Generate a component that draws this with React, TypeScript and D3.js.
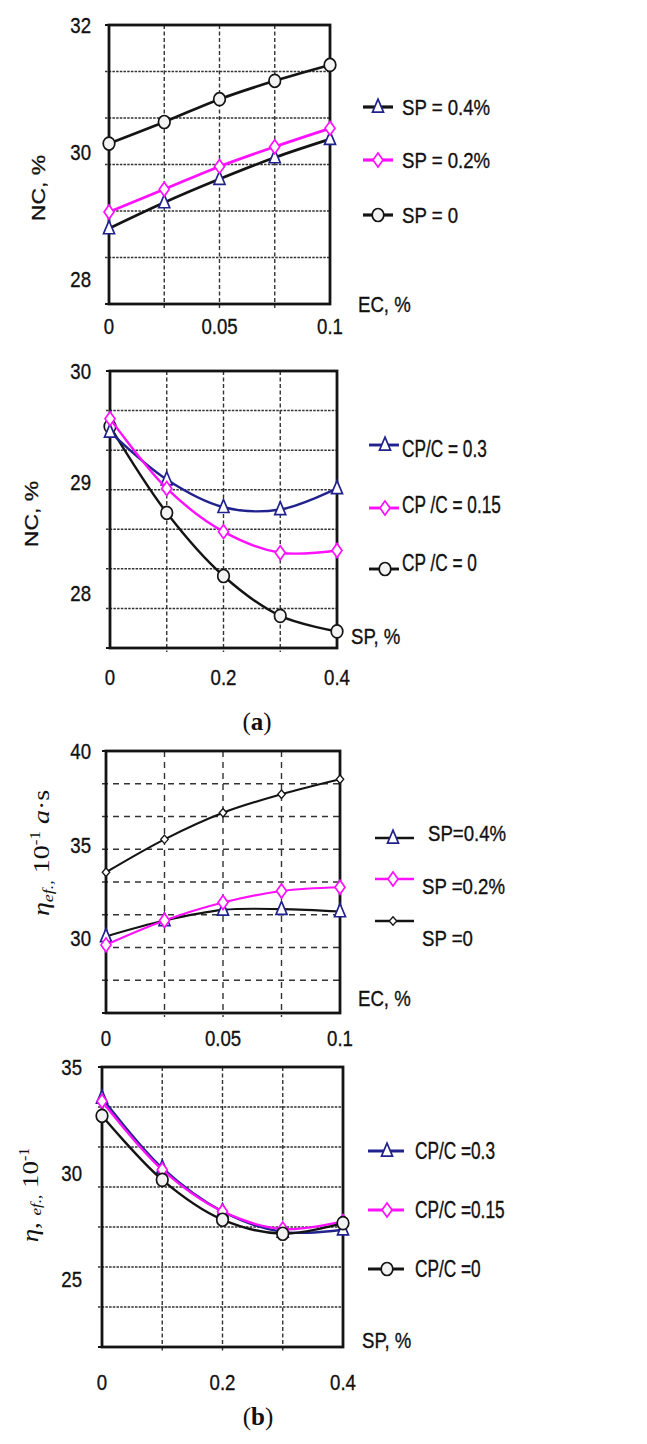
import * as d3 from "d3";
import type { ReactNode } from "react";

// x levels
const ecLevels = [0, 0.025, 0.05, 0.075, 0.1];
const spLevels = [0, 0.1, 0.2, 0.3, 0.4];
const ecGrid = [0.025, 0.05, 0.075];
const spGrid = [0.1, 0.2, 0.3];
const ecTickLabels = [0, 0.05, 0.1];
const spTickLabels = [0, 0.2, 0.4];

// (a) top: NC vs EC
const ncEcSp04 = [28.79, 29.2, 29.57, 29.91, 30.2];
const ncEcSp02 = [29.05, 29.41, 29.77, 30.08, 30.37];
const ncEcSp0 = [30.13, 30.47, 30.83, 31.12, 31.37];
const ncEcTicks = [28, 30, 32];
const ncEcLegend = ["SP = 0.4%", "SP = 0.2%", "SP = 0"];

// (a) bottom: NC vs SP
const ncSpCp03 = [29.45, 29.02, 28.77, 28.75, 28.94];
const ncSpCp015 = [29.57, 28.94, 28.55, 28.36, 28.38];
const ncSpCp0 = [29.5, 28.72, 28.15, 27.79, 27.65];
const ncSpTicks = [28, 29, 30];
const ncSpLegend = ["CP/C = 0.3", "CP /C = 0.15", "CP /C = 0"];

// (b) top: viscosity vs EC
const etaEcSp04 = [30.09, 30.94, 31.51, 31.55, 31.42];
const etaEcSp02 = [29.64, 30.94, 31.9, 32.52, 32.72];
const etaEcSp0 = [33.52, 35.28, 36.7, 37.69, 38.49];
const etaEcTicks = [30, 35, 40];
const etaEcLegend = ["SP=0.4%", "SP =0.2%", "SP =0"];

// (b) bottom: viscosity vs SP
const etaSpCp03 = [33.54, 30.24, 28.19, 27.22, 27.33];
const etaSpCp015 = [33.38, 30.16, 28.19, 27.36, 27.72];
const etaSpCp0 = [32.7, 29.68, 27.8, 27.14, 27.64];
const etaSpTicks = [25, 30, 35];
const etaSpLegend = ["CP/C =0.3", "CP/C =0.15", "CP/C =0"];

const NAVY = "#22228e";
const MAGENTA = "#ff10ff";
const INK = "#141414";
const SANS = "'Liberation Sans', Arial, sans-serif";
const SERIF = "'Liberation Serif', 'Times New Roman', serif";

type Shape = "triangle" | "diamond" | "circle" | "dot";

function Marker({ shape, cx, cy }: { shape: Shape; cx: number; cy: number }) {
    if (shape === "triangle") {
        const w = 11, h = 13;
        const d = `M${cx},${cy - h * 0.6}L${cx + w / 2},${cy + h * 0.4}L${cx - w / 2},${cy + h * 0.4}Z`;
        return <path d={d} fill="white" stroke={NAVY} strokeWidth={1.7} />;
    }
    if (shape === "diamond") {
        const w = 10, h = 14;
        const d = `M${cx},${cy - h / 2}L${cx + w / 2},${cy}L${cx},${cy + h / 2}L${cx - w / 2},${cy}Z`;
        return <path d={d} fill="white" stroke={MAGENTA} strokeWidth={1.7} />;
    }
    if (shape === "dot") {
        const w = 7.5, h = 8.5;
        const d = `M${cx},${cy - h / 2}L${cx + w / 2},${cy}L${cx},${cy + h / 2}L${cx - w / 2},${cy}Z`;
        return <path d={d} fill="white" stroke={INK} strokeWidth={1.3} />;
    }
    return <ellipse cx={cx} cy={cy} rx={5.8} ry={6.5} fill="#f3f3f3" stroke={INK} strokeWidth={1.7} />;
}

function Label({ x, y, text, anchor = "start", size = 23, sx = 0.81 }: { x: number; y: number; text: string; anchor?: string; size?: number; sx?: number }) {
    return (
        <text
            transform={`translate(${x},${y}) scale(${sx},1)`}
            textAnchor={anchor}
            fontSize={size}
            fontFamily={SANS}
            fill="#111"
            stroke="#111"
            strokeWidth={0.35}
        >
            {text}
        </text>
    );
}

interface Series {
    values: number[];
    color: string;
    shape: Shape;
}

interface PanelCfg {
    box: { l: number; r: number; t: number; b: number };
    xLevels: number[];
    xDomain: [number, number];
    yDomain: [number, number];
    xGrid: number[];
    hGridCount: number;
    yTicks: number[];
    xTicks: number[];
    yTickRight: number;
    xTickBase: number;
    xTitle: { text: string; x: number; y: number };
    yTitle: ReactNode;
    series: Series[];
    lineWidth: number;
    dash: { h: string; v: string };
    legend: { labels: string[]; x0: number; x1: number; mx: number; tx: number[]; ly: number[]; ty: number[]; sx: number };
    drawOrder: number[];
}

function Panel({ cfg }: { cfg: PanelCfg }) {
    const { box } = cfg;
    const x = d3.scaleLinear().domain(cfg.xDomain).range([box.l, box.r]);
    const y = d3.scaleLinear().domain(cfg.yDomain).range([box.b, box.t]);
    const [y0, y1] = cfg.yDomain;
    const hGrid = d3.range(1, cfg.hGridCount).map((i) => y0 + (i * (y1 - y0)) / cfg.hGridCount);
    const line = (vals: number[]) =>
        d3
            .line<number>()
            .x((_, i) => x(cfg.xLevels[i]))
            .y((d) => y(d))
            .curve(d3.curveCatmullRom.alpha(0.5))(vals) ?? "";

    return (
        <g>
            {hGrid.map((v, i) => (
                <line key={`h${i}`} x1={box.l - 4} x2={box.r} y1={y(v)} y2={y(v)} stroke="#333" strokeWidth={1.5} strokeDasharray={cfg.dash.h} />
            ))}
            {cfg.xGrid.map((v, i) => (
                <line key={`v${i}`} x1={x(v)} x2={x(v)} y1={box.t} y2={box.b + 4} stroke="#333" strokeWidth={1.4} strokeDasharray={cfg.dash.v} />
            ))}
            <line x1={box.l - 4} x2={box.l} y1={box.t} y2={box.t} stroke={INK} strokeWidth={2} />
            <line x1={box.l - 4} x2={box.l} y1={box.b} y2={box.b} stroke={INK} strokeWidth={2} />
            <rect x={box.l} y={box.t} width={box.r - box.l} height={box.b - box.t} fill="none" stroke={INK} strokeWidth={2.8} />

            {cfg.yTicks.map((v) => (
                <Label key={`yt${v}`} x={cfg.yTickRight} y={y(v) + 8} text={String(v)} anchor="end" />
            ))}
            {cfg.xTicks.map((v) => (
                <Label key={`xt${v}`} x={x(v)} y={cfg.xTickBase} text={String(v)} anchor="middle" />
            ))}
            <Label x={cfg.xTitle.x} y={cfg.xTitle.y} text={cfg.xTitle.text} />
            {cfg.yTitle}

            {cfg.drawOrder.map((si) => {
                const s = cfg.series[si];
                return (
                    <g key={`s${si}`}>
                        <path d={line(s.values)} fill="none" stroke={s.color} strokeWidth={cfg.lineWidth} strokeLinejoin="round" />
                        {s.values.map((v, i) => (
                            <Marker key={i} shape={s.shape} cx={x(cfg.xLevels[i])} cy={y(v)} />
                        ))}
                    </g>
                );
            })}

            {cfg.series.map((s, i) => (
                <g key={`lg${i}`}>
                    <line x1={cfg.legend.x0} x2={cfg.legend.x1} y1={cfg.legend.ly[i]} y2={cfg.legend.ly[i]} stroke={s.color} strokeWidth={cfg.lineWidth + 0.5} />
                    <Marker shape={s.shape} cx={cfg.legend.mx} cy={cfg.legend.ly[i]} />
                    <Label x={cfg.legend.tx[i]} y={cfg.legend.ty[i] + 8} text={cfg.legend.labels[i]} sx={cfg.legend.sx} />
                </g>
            ))}
        </g>
    );
}

function SansTitle({ x, y, text }: { x: number; y: number; text: string }) {
    return (
        <text
            transform={`translate(${x},${y}) rotate(-90) scale(1,0.81)`}
            textAnchor="middle"
            fontSize={23}
            fontFamily={SANS}
            fill="#111"
            stroke="#111"
            strokeWidth={0.35}
        >
            {text}
        </text>
    );
}

const panels: PanelCfg[] = [
    {
        box: { l: 109, r: 330, t: 25, b: 304 },
        xLevels: ecLevels,
        xDomain: [0, 0.1],
        yDomain: [27.6, 32],
        xGrid: ecGrid,
        hGridCount: 6,
        yTicks: ncEcTicks,
        xTicks: ecTickLabels,
        yTickRight: 91,
        xTickBase: 334,
        xTitle: { text: "EC, %", x: 358, y: 312 },
        yTitle: <SansTitle x={45} y={188} text="NC, %" />,
        series: [
            { values: ncEcSp04, color: INK, shape: "triangle" },
            { values: ncEcSp02, color: MAGENTA, shape: "diamond" },
            { values: ncEcSp0, color: INK, shape: "circle" },
        ],
        lineWidth: 2.7,
        dash: { h: "2.5,1.2", v: "4,2.5" },
        legend: { labels: ncEcLegend, x0: 363, x1: 393, mx: 378, tx: [402, 402, 402], ly: [107, 160, 215], ty: [107, 160, 215], sx: 0.81 },
        drawOrder: [2, 0, 1],
    },
    {
        box: { l: 110, r: 337, t: 371, b: 648 },
        xLevels: spLevels,
        xDomain: [0, 0.4],
        yDomain: [27.5, 30],
        xGrid: spGrid,
        hGridCount: 7,
        yTicks: ncSpTicks,
        xTicks: spTickLabels,
        yTickRight: 91,
        xTickBase: 685,
        xTitle: { text: "SP, %", x: 351, y: 644 },
        yTitle: <SansTitle x={38} y={514} text="NC, %" />,
        series: [
            { values: ncSpCp03, color: NAVY, shape: "triangle" },
            { values: ncSpCp015, color: MAGENTA, shape: "diamond" },
            { values: ncSpCp0, color: INK, shape: "circle" },
        ],
        lineWidth: 2.4,
        dash: { h: "2.5,1.2", v: "4,2.5" },
        legend: { labels: ncSpLegend, x0: 369, x1: 399, mx: 385, tx: [402, 402, 402], ly: [445, 508, 569], ty: [449, 505, 563], sx: 0.75 },
        drawOrder: [2, 0, 1],
    },
    {
        box: { l: 106, r: 340, t: 751, b: 1013 },
        xLevels: ecLevels,
        xDomain: [0, 0.1],
        yDomain: [26, 40],
        xGrid: ecGrid,
        hGridCount: 8,
        yTicks: etaEcTicks,
        xTicks: ecTickLabels,
        yTickRight: 91,
        xTickBase: 1046,
        xTitle: { text: "EC, %", x: 358, y: 1006 },
        yTitle: (
            <text transform="translate(49,853) rotate(-90) scale(1,0.85)" textAnchor="middle" fontSize={28} fontFamily={SERIF} fill="#111">
                <tspan fontStyle="italic">η</tspan>
                <tspan fontStyle="italic" fontSize={18} dy={5}>ef.,</tspan>
                <tspan dy={-5}>{"  10"}</tspan>
                <tspan fontSize={17} dy={-11}>-1</tspan>
                <tspan dy={11} fontStyle="italic">{"  a"}</tspan>
                <tspan>·s</tspan>
            </text>
        ),
        series: [
            { values: etaEcSp04, color: INK, shape: "triangle" },
            { values: etaEcSp02, color: MAGENTA, shape: "diamond" },
            { values: etaEcSp0, color: INK, shape: "dot" },
        ],
        lineWidth: 2.1,
        dash: { h: "6,5", v: "6,5" },
        legend: { labels: etaEcLegend, x0: 375, x1: 414, mx: 393, tx: [428, 422, 422], ly: [838, 879, 921], ty: [833, 886, 938], sx: 0.81 },
        drawOrder: [2, 0, 1],
    },
    {
        box: { l: 102, r: 343, t: 1067, b: 1347 },
        xLevels: spLevels,
        xDomain: [0, 0.4],
        yDomain: [21.8, 35],
        xGrid: spGrid,
        hGridCount: 7,
        yTicks: etaSpTicks,
        xTicks: spTickLabels,
        yTickRight: 82,
        xTickBase: 1390,
        xTitle: { text: "SP, %", x: 362, y: 1348 },
        yTitle: (
            <text transform="translate(38,1195) rotate(-90) scale(1,0.85)" textAnchor="middle" fontSize={27} fontFamily={SERIF} fill="#111">
                <tspan fontStyle="italic">η</tspan>
                <tspan>{", "}</tspan>
                <tspan fontStyle="italic" fontSize={17} dy={4}>ef.,</tspan>
                <tspan dy={-4}>{"  10"}</tspan>
                <tspan fontSize={16} dy={-11}>-1</tspan>
            </text>
        ),
        series: [
            { values: etaSpCp03, color: NAVY, shape: "triangle" },
            { values: etaSpCp015, color: MAGENTA, shape: "diamond" },
            { values: etaSpCp0, color: INK, shape: "circle" },
        ],
        lineWidth: 2.4,
        dash: { h: "2.5,1.2", v: "4,2.5" },
        legend: { labels: etaSpLegend, x0: 368, x1: 404, mx: 387, tx: [415, 415, 415], ly: [1151, 1210, 1269], ty: [1151, 1210, 1269], sx: 0.75 },
        drawOrder: [0, 1, 2],
    },
];

export default function App() {
    return (
        <svg width={647} height={1444} style={{ position: "absolute", left: 0, top: 0, background: "white" }}>
            <rect width={647} height={1444} fill="white" />
            {panels.map((p, i) => (
                <Panel key={i} cfg={p} />
            ))}
            <text x={257} y={730} textAnchor="middle" fontSize={25} fontFamily={SERIF} fill="#111">
                (<tspan fontWeight="bold">a</tspan>)
            </text>
            <text x={258} y={1425} textAnchor="middle" fontSize={25} fontFamily={SERIF} fill="#111">
                (<tspan fontWeight="bold">b</tspan>)
            </text>
        </svg>
    );
}
